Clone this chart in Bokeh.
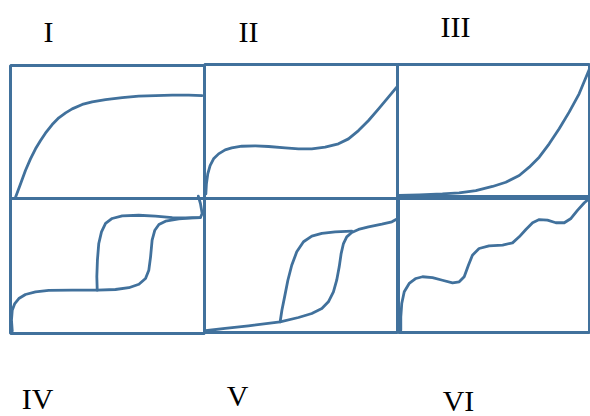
from bokeh.plotting import figure
from bokeh.models import Range1d
from bokeh.embed import file_html
from bokeh.resources import INLINE
from bokeh.core.properties import value

# Six adsorption isotherm types (IUPAC I-VI).
# Each curve: relative pressure (0-100) vs amount adsorbed (0-100), panel-local units.

type_names = ["I", "II", "III", "IV", "V", "VI"]

# Type I - Langmuir-like monolayer plateau
i_p = [2.6, 5.2, 7.7, 10.3, 12.9, 15.5, 18.0, 21.5, 24.9, 28.4, 31.8, 37.0, 42.1, 49.0,
       57.6, 66.1, 74.7, 83.4, 91.9, 98.8]
i_n = [1.0, 11.1, 21.1, 29.8, 37.4, 43.6, 49.1, 55.6, 60.7, 64.4, 67.4, 70.7, 72.7, 74.4,
       75.9, 76.9, 77.4, 77.7, 77.7, 77.4]

# Type II - monolayer knee then multilayer rise
ii_p = [0.7, 1.0, 1.7, 2.9, 4.7, 7.3, 10.7, 14.1, 19.3, 26.3, 33.2, 41.8, 48.7, 55.6,
        62.5, 69.4, 74.6, 79.8, 85.0, 90.2, 95.3, 99.6]
ii_n = [3.5, 11.0, 18.4, 24.6, 29.6, 33.3, 36.3, 37.8, 39.0, 39.3, 38.8, 37.8, 37.1, 37.1,
        38.3, 40.8, 44.5, 50.7, 58.2, 66.9, 75.6, 83.1]

# Type III - convex over the whole range
iii_p = [0.9, 11.3, 23.4, 32.1, 40.8, 49.5, 56.4, 63.4, 68.6, 73.8, 79.0, 84.2, 89.4, 94.6, 99.8]
iii_n = [0.8, 1.3, 2.0, 2.8, 4.5, 7.6, 10.8, 15.9, 22.2, 29.8, 39.9, 51.3, 63.9, 77.8, 96.0]

# Type IV - adsorption branch and desorption branch (hysteresis loop)
iv_ads_p = [0.9, 0.5, 0.9, 2.2, 4.3, 7.7, 12.9, 19.7, 31.8, 44.7, 54.1, 61.0, 66.2, 69.6,
            71.3, 72.2, 73.0, 74.4, 76.5, 79.9, 86.8, 93.7, 97.9, 98.8, 97.9, 96.8]
iv_ads_n = [2.0, 9.9, 17.3, 22.2, 25.9, 28.9, 30.9, 31.9, 32.1, 32.1, 32.6, 33.9, 36.5, 40.7,
            46.9, 56.8, 69.1, 76.5, 80.7, 83.2, 84.9, 85.7, 85.9, 88.9, 96.3, 101.7]
iv_des_p = [44.7, 44.5, 44.8, 45.5, 46.9, 49.0, 52.4, 57.6, 66.1, 74.7, 83.4, 90.2, 97.9]
iv_des_n = [32.1, 42.0, 54.3, 66.7, 75.3, 81.5, 85.2, 87.2, 87.6, 86.9, 85.9, 85.7, 85.9]

# Type V - weak initial uptake, then condensation with hysteresis
v_ads_p = [0.4, 10.7, 22.8, 39.2, 48.7, 55.6, 60.8, 64.2, 66.8, 68.5, 69.8, 70.8, 72.0, 73.7,
           76.3, 79.8, 85.0, 91.9, 97.1, 100.2]
v_ads_n = [1.3, 3.0, 5.0, 8.0, 11.2, 14.2, 17.9, 22.9, 30.4, 39.0, 49.0, 58.9, 66.4, 71.4,
           74.6, 76.9, 78.9, 80.8, 82.6, 85.1]
v_des_p = [39.2, 40.1, 41.5, 43.2, 45.2, 47.8, 51.3, 55.6, 60.8, 67.7, 76.3]
v_des_n = [8.0, 16.6, 26.6, 39.0, 50.2, 60.2, 67.7, 71.9, 73.9, 75.1, 75.6]

# Type VI - stepwise multilayer adsorption
vi_p = [1.2, 1.2, 1.7, 3.0, 5.6, 9.1, 12.6, 17.8, 23.0, 28.3, 31.8, 34.4, 36.6, 38.7, 42.2,
        47.4, 54.5, 59.7, 63.2, 66.7, 70.2, 73.7, 78.0, 82.4, 86.8, 90.3, 93.8, 97.3, 99.9]
vi_n = [1.7, 11.7, 21.6, 30.4, 36.6, 40.3, 41.6, 41.0, 39.0, 37.1, 37.8, 41.6, 50.2, 57.7,
        62.7, 64.7, 65.2, 66.9, 71.4, 76.9, 81.9, 84.3, 83.8, 81.9, 81.9, 85.1, 91.3, 96.8, 100.0]

curves = [
    [(i_p, i_n)],
    [(ii_p, ii_n)],
    [(iii_p, iii_n)],
    [(iv_ads_p, iv_ads_n), (iv_des_p, iv_des_n)],
    [(v_ads_p, v_ads_n), (v_des_p, v_des_n)],
    [(vi_p, vi_n)],
]

BLUE = "#41719C"

# page canvas in pixel-like units, y pointing down
p = figure(width=590, height=416, x_range=Range1d(0, 590), y_range=Range1d(416, 0),
           output_backend="svg", toolbar_location=None, min_border=0)
p.axis.visible = False
p.grid.visible = False
p.outline_line_color = None
p.background_fill_color = "white"
p.border_fill_color = "white"

# panel frames on the page: (left, right, top, bottom)
frames = [
    (10, 204, 65, 198),
    (204, 397, 64, 198),
    (397, 589, 64, 196),
    (10, 204, 198, 333),
    (204, 397, 198, 332),
    (398, 589, 198, 332),
]

for (left, right, top, bottom), series in zip(frames, curves):
    sub = p.subplot(
        x_source=Range1d(0, 100), y_source=Range1d(0, 100),
        x_target=Range1d(left, right), y_target=Range1d(bottom, top),
    )
    sub.quad(left=[0], right=[100], bottom=[0], top=[100], fill_color=None,
             line_color=BLUE, line_width=3)
    for px, pn in series:
        sub.line(px, pn, line_color=BLUE, line_width=2.8, line_join="round", line_cap="round")

# type labels, anchored at their vertical middle
label_x = [48, 248, 455, 37, 237, 458]
label_y = [31, 31, 26, 398, 395, 400]
p.text(x=label_x, y=label_y, text=type_names, text_align="center", text_baseline="middle",
       text_font=value("Liberation Serif"), text_font_size="30px", text_color="black")

open("out.html", "w").write(file_html(p, INLINE))
